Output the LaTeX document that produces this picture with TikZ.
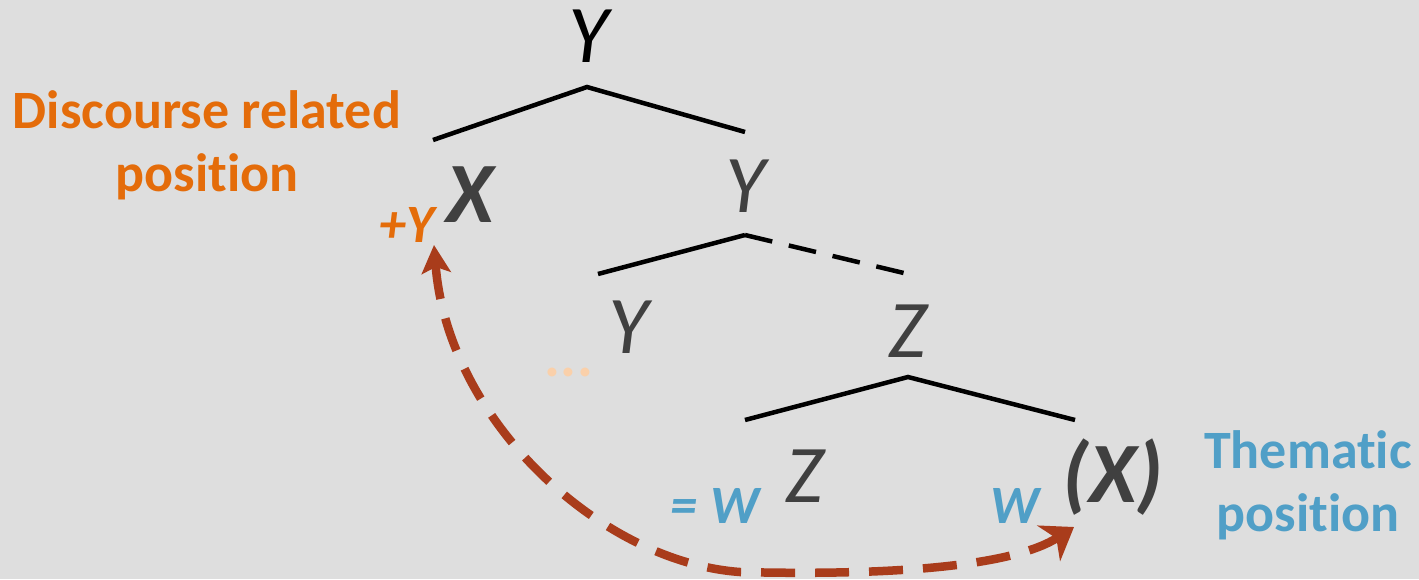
\documentclass[tikz,border=0pt]{standalone}
\usepackage{fontspec}
\setmainfont{Carlito}[Ligatures={NoCommon}]
\usetikzlibrary{arrows.meta}
\definecolor{bg}{HTML}{DEDEDE}
\definecolor{dgray}{HTML}{404040}
\definecolor{orng}{HTML}{E46C0A}
\definecolor{blu}{HTML}{509FC7}
\definecolor{rust}{HTML}{A93C1B}
\definecolor{peach}{HTML}{FAD0AA}
\tikzset{
  lbl/.style={inner sep=0pt, anchor=base, text=dgray, font=\fontsize{82}{90}\selectfont\itshape},
  blbl/.style={inner sep=0pt, anchor=base, text=dgray, font=\fontsize{86}{90}\selectfont\bfseries\itshape},
  small/.style={inner sep=0pt, anchor=base, font=\fontsize{54}{60}\selectfont\bfseries\itshape},
  side/.style={inner sep=0pt, align=center, font=\fontsize{54}{63}\selectfont\bfseries},
  branch/.style={line width=4.5pt, black},
  move/.style={line width=8.5pt, rust, dash pattern=on 34pt off 20pt,
    {Stealth[length=28pt,width=29pt,inset=6pt]}-{Stealth[length=30pt,width=42pt,inset=9pt]}}
}
\begin{document}
\begin{tikzpicture}[x=1pt,y=-1pt]
\useasboundingbox (0,0) rectangle (1419,579);
\fill[bg] (0,0) rectangle (1419,579);
% labels
\node[lbl, text=black] (ytop) at (588,62) {Y};
\node[lbl] (y2) at (745,212) {Y};
\node[lbl] (y3) at (628,353) {Y};
\node[lbl] (z1) at (908,357) {Z};
\node[lbl] (z2) at (805,502) {Z};
\node[blbl] (x1) at (470,222) {X};
\node[blbl] (x2) at (1113,502) {(X)};
\node[small, text=orng] (py) at (407,242) {+Y};
\node[small, text=blu] (eqw) at (715,523) {= W};
\node[small, text=blu] (w) at (1015,523) {W};
\node[small, text=peach, font=\fontsize{60}{60}\selectfont\bfseries\itshape] (dots) at (570,376) {...};
\node[side, text=orng] (disc) at (207,145) {Discourse related\\position};
\node[side, text=blu] (them) at (1308,485) {Thematic\\position};
% branch points
\coordinate (a1) at (587,87);
\coordinate (a1l) at (433,140);
\coordinate (a1r) at (745,132);
\coordinate (a2) at (745,235);
\coordinate (a2l) at (598,274);
\coordinate (a2r) at (908,274);
\coordinate (a3) at (908,377);
\coordinate (a3l) at (745,420);
\coordinate (a3r) at (1075,420);
\draw[branch] (a1l) -- (a1) -- (a1r);
\draw[branch] (a2l) -- (a2);
\draw[branch, dash pattern=on 28pt off 17pt] (a2) -- (a2r);
\draw[branch] (a3l) -- (a3) -- (a3r);
% movement arrow
\coordinate (tipA) at (434,245);
\coordinate (bot) at (740,572);
\coordinate (tipB) at (1074,527);
\draw[move] (tipA) .. controls (448,420) and (600,562) .. (bot) .. controls (900,576) and (1015,565) .. (tipB);
\end{tikzpicture}
\end{document}
